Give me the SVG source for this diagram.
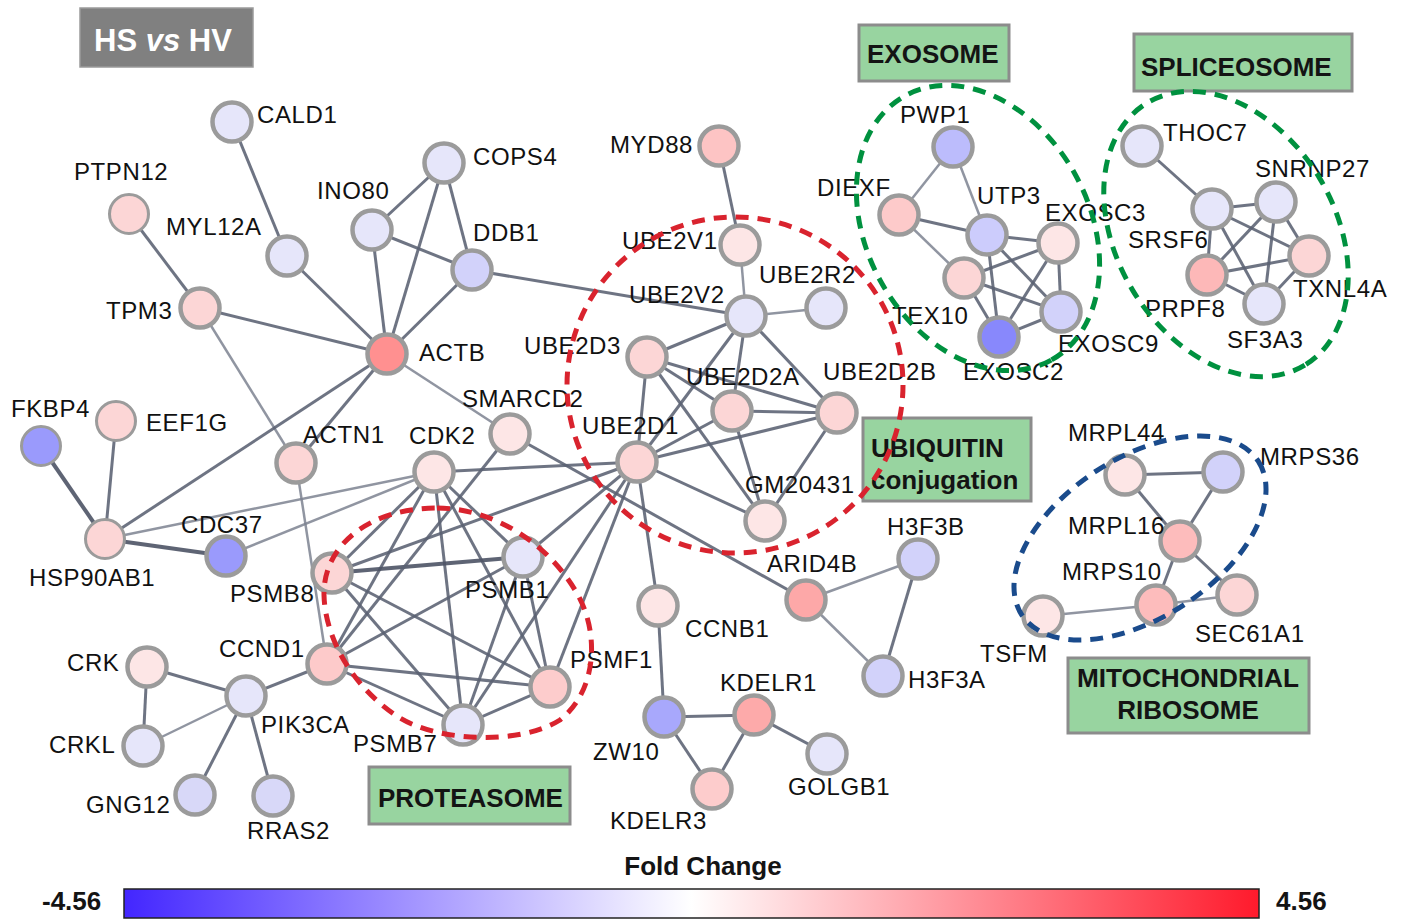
<svg xmlns="http://www.w3.org/2000/svg" width="1408" height="919" viewBox="0 0 1408 919">
<style>
.e{stroke:#5a6172;stroke-width:3;stroke-opacity:.88;fill:none}
.el{stroke:#7c8290;stroke-width:2.5;stroke-opacity:.85;fill:none}
.eb{stroke:#4c5365;stroke-width:4;stroke-opacity:.9;fill:none}
.n{stroke:#9b9b9b;stroke-width:4.5}
.nt{stroke:#9b9b9b;stroke-width:3}
.lbl{font-family:"Liberation Sans",Arial,Helvetica,sans-serif;font-size:24px;fill:#111;letter-spacing:.6px}
.box{fill:#98d4a0;stroke:#8c8c8c;stroke-width:3}
.bt{font-family:"Liberation Sans",Arial,Helvetica,sans-serif;font-size:26px;font-weight:bold;fill:#141414}
.dr{fill:none;stroke:#d9232e;stroke-width:5;stroke-dasharray:13 9}
.dg{fill:none;stroke:#00913f;stroke-width:5;stroke-dasharray:13 9}
.db{fill:none;stroke:#1a4b8c;stroke-width:5;stroke-dasharray:13 9}
.lav{fill:#e6e6fa}.lav2{fill:#d2d2fa}.lav3{fill:#bcbcfc}
.blu{fill:#9a9afc}.blu2{fill:#a8a8fc}.blu3{fill:#8888fc}
.pk{fill:#fcd6d6}.lpk{fill:#fde6e6}.mpk{fill:#fdbcbc}.rd{fill:#ff9090}.rd2{fill:#fda8a8}
</style>
<defs>
<linearGradient id="fc" x1="0" y1="0" x2="1" y2="0">
<stop offset="0" stop-color="#4326ff"/>
<stop offset="0.5" stop-color="#ffffff"/>
<stop offset="1" stop-color="#ff1a2c"/>
</linearGradient>
</defs>
<rect width="1408" height="919" fill="#ffffff"/>

<g id="title">
<rect x="80" y="8" width="173" height="59" fill="#808080" stroke="#9a9a9a" stroke-width="1.5"/>
<text x="94" y="51" font-family="Liberation Sans, Arial, sans-serif" font-size="31" font-weight="bold" fill="#ffffff">HS <tspan font-style="italic">vs</tspan> HV</text>
</g>

<g id="edges">
<line class="e" x1="232" y1="122" x2="287" y2="256"/>
<line class="e" x1="287" y1="256" x2="387" y2="354"/>
<line class="e" x1="129" y1="214" x2="200" y2="308"/>
<line class="e" x1="200" y1="308" x2="387" y2="354"/>
<line class="el" x1="200" y1="308" x2="296" y2="463"/>
<line class="e" x1="372" y1="230" x2="444" y2="163"/>
<line class="e" x1="372" y1="230" x2="472" y2="270"/>
<line class="e" x1="372" y1="230" x2="387" y2="354"/>
<line class="e" x1="444" y1="163" x2="387" y2="354"/>
<line class="e" x1="444" y1="163" x2="472" y2="270"/>
<line class="e" x1="472" y1="270" x2="387" y2="354"/>
<line class="e" x1="472" y1="270" x2="746" y2="316"/>
<line class="e" x1="387" y1="354" x2="105" y2="539"/>
<line class="e" x1="387" y1="354" x2="296" y2="463"/>
<line class="el" x1="387" y1="354" x2="510" y2="434"/>
<line class="eb" x1="41" y1="446" x2="105" y2="539"/>
<line class="e" x1="116" y1="421" x2="105" y2="539"/>
<line class="eb" x1="105" y1="539" x2="226" y2="556"/>
<line class="el" x1="105" y1="539" x2="434" y2="472"/>
<line class="el" x1="226" y1="556" x2="434" y2="472"/>
<line class="el" x1="296" y1="463" x2="327" y2="664"/>
<line class="e" x1="434" y1="472" x2="332" y2="573"/>
<line class="e" x1="434" y1="472" x2="327" y2="664"/>
<line class="e" x1="434" y1="472" x2="523" y2="557"/>
<line class="e" x1="434" y1="472" x2="550" y2="687"/>
<line class="e" x1="434" y1="472" x2="463" y2="725"/>
<line class="e" x1="434" y1="472" x2="637" y2="462"/>
<line class="eb" x1="332" y1="573" x2="523" y2="557"/>
<line class="e" x1="332" y1="573" x2="550" y2="687"/>
<line class="e" x1="332" y1="573" x2="463" y2="725"/>
<line class="e" x1="332" y1="573" x2="637" y2="462"/>
<line class="e" x1="327" y1="664" x2="523" y2="557"/>
<line class="e" x1="327" y1="664" x2="550" y2="687"/>
<line class="e" x1="327" y1="664" x2="463" y2="725"/>
<line class="e" x1="327" y1="664" x2="510" y2="434"/>
<line class="e" x1="327" y1="664" x2="246" y2="696"/>
<line class="e" x1="523" y1="557" x2="550" y2="687"/>
<line class="e" x1="523" y1="557" x2="463" y2="725"/>
<line class="e" x1="523" y1="557" x2="637" y2="462"/>
<line class="e" x1="550" y1="687" x2="463" y2="725"/>
<line class="e" x1="550" y1="687" x2="637" y2="462"/>
<line class="e" x1="463" y1="725" x2="637" y2="462"/>
<line class="e" x1="719" y1="146" x2="740" y2="245"/>
<line class="el" x1="740" y1="245" x2="746" y2="316"/>
<line class="el" x1="746" y1="316" x2="826" y2="308"/>
<line class="e" x1="746" y1="316" x2="647" y2="357"/>
<line class="e" x1="746" y1="316" x2="732" y2="411"/>
<line class="e" x1="746" y1="316" x2="837" y2="413"/>
<line class="e" x1="746" y1="316" x2="637" y2="462"/>
<line class="e" x1="647" y1="357" x2="732" y2="411"/>
<line class="e" x1="647" y1="357" x2="837" y2="413"/>
<line class="e" x1="647" y1="357" x2="637" y2="462"/>
<line class="e" x1="647" y1="357" x2="765" y2="521"/>
<line class="e" x1="732" y1="411" x2="837" y2="413"/>
<line class="e" x1="732" y1="411" x2="637" y2="462"/>
<line class="e" x1="732" y1="411" x2="765" y2="521"/>
<line class="e" x1="837" y1="413" x2="637" y2="462"/>
<line class="e" x1="837" y1="413" x2="765" y2="521"/>
<line class="e" x1="637" y1="462" x2="765" y2="521"/>
<line class="e" x1="637" y1="462" x2="658" y2="606"/>
<line class="e" x1="510" y1="434" x2="806" y2="600"/>
<line class="el" x1="806" y1="600" x2="918" y2="559"/>
<line class="el" x1="806" y1="600" x2="883" y2="676"/>
<line class="e" x1="918" y1="559" x2="883" y2="676"/>
<line class="e" x1="658" y1="606" x2="664" y2="717"/>
<line class="e" x1="664" y1="717" x2="754" y2="715"/>
<line class="e" x1="664" y1="717" x2="712" y2="789"/>
<line class="e" x1="754" y1="715" x2="712" y2="789"/>
<line class="e" x1="754" y1="715" x2="827" y2="754"/>
<line class="e" x1="246" y1="696" x2="147" y2="667"/>
<line class="el" x1="246" y1="696" x2="143" y2="746"/>
<line class="e" x1="147" y1="667" x2="143" y2="746"/>
<line class="e" x1="246" y1="696" x2="195" y2="795"/>
<line class="e" x1="246" y1="696" x2="273" y2="796"/>
<line class="el" x1="953" y1="147" x2="899" y2="215"/>
<line class="el" x1="953" y1="147" x2="987" y2="235"/>
<line class="e" x1="899" y1="215" x2="987" y2="235"/>
<line class="el" x1="899" y1="215" x2="964" y2="278"/>
<line class="e" x1="987" y1="235" x2="1058" y2="243"/>
<line class="e" x1="987" y1="235" x2="999" y2="337"/>
<line class="e" x1="987" y1="235" x2="1061" y2="312"/>
<line class="e" x1="964" y1="278" x2="1058" y2="243"/>
<line class="e" x1="964" y1="278" x2="1061" y2="312"/>
<line class="e" x1="964" y1="278" x2="999" y2="337"/>
<line class="e" x1="1058" y1="243" x2="1061" y2="312"/>
<line class="e" x1="1058" y1="243" x2="999" y2="337"/>
<line class="e" x1="1061" y1="312" x2="999" y2="337"/>
<line class="e" x1="1142" y1="146" x2="1212" y2="209"/>
<line class="e" x1="1212" y1="209" x2="1276" y2="202"/>
<line class="e" x1="1212" y1="209" x2="1309" y2="256"/>
<line class="e" x1="1212" y1="209" x2="1207" y2="275"/>
<line class="e" x1="1212" y1="209" x2="1264" y2="304"/>
<line class="e" x1="1276" y1="202" x2="1207" y2="275"/>
<line class="e" x1="1276" y1="202" x2="1309" y2="256"/>
<line class="e" x1="1276" y1="202" x2="1264" y2="304"/>
<line class="e" x1="1207" y1="275" x2="1309" y2="256"/>
<line class="e" x1="1207" y1="275" x2="1264" y2="304"/>
<line class="e" x1="1309" y1="256" x2="1264" y2="304"/>
<line class="e" x1="1125" y1="475" x2="1223" y2="472"/>
<line class="e" x1="1125" y1="475" x2="1180" y2="541"/>
<line class="e" x1="1223" y1="472" x2="1180" y2="541"/>
<line class="e" x1="1180" y1="541" x2="1156" y2="605"/>
<line class="e" x1="1180" y1="541" x2="1237" y2="595"/>
<line class="el" x1="1156" y1="605" x2="1043" y2="616"/>
<line class="el" x1="1156" y1="605" x2="1237" y2="595"/>
</g>

<g id="n-CALD1"><circle class="n lav" cx="232" cy="122" r="19.5"/><text class="lbl" x="257" y="123">CALD1</text></g>
<g id="n-PTPN12"><circle class="nt pk" cx="129" cy="214" r="19.5"/><text class="lbl" x="74" y="180">PTPN12</text></g>
<g id="n-MYL12A"><circle class="n lav" cx="287" cy="256" r="19.5"/><text class="lbl" x="166" y="235">MYL12A</text></g>
<g id="n-TPM3"><circle class="n pk" cx="200" cy="308" r="19.5"/><text class="lbl" x="106" y="319">TPM3</text></g>
<g id="n-INO80"><circle class="n lav" cx="372" cy="230" r="19.5"/><text class="lbl" x="317" y="199">INO80</text></g>
<g id="n-COPS4"><circle class="n lav" cx="444" cy="163" r="19.5"/><text class="lbl" x="473" y="165">COPS4</text></g>
<g id="n-DDB1"><circle class="n lav2" cx="472" cy="270" r="19.5"/><text class="lbl" x="473" y="241">DDB1</text></g>
<g id="n-ACTB"><circle class="n rd" cx="387" cy="354" r="19.5"/><text class="lbl" x="419" y="361">ACTB</text></g>
<g id="n-MYD88"><circle class="n" cx="719" cy="146" r="19.5" fill="#fdc4c4"/><text class="lbl" x="610" y="153">MYD88</text></g>
<g id="n-UBE2V1"><circle class="n lpk" cx="740" cy="245" r="19.5"/><text class="lbl" x="622" y="249">UBE2V1</text></g>
<g id="n-UBE2R2"><circle class="n lav" cx="826" cy="308" r="19.5"/><text class="lbl" x="759" y="283">UBE2R2</text></g>
<g id="n-UBE2V2"><circle class="n lav" cx="746" cy="316" r="19.5"/><text class="lbl" x="629" y="303">UBE2V2</text></g>
<g id="n-UBE2D3"><circle class="n pk" cx="647" cy="357" r="19.5"/><text class="lbl" x="524" y="354">UBE2D3</text></g>
<g id="n-UBE2D2A"><circle class="n pk" cx="732" cy="411" r="19.5"/><text class="lbl" x="686" y="385">UBE2D2A</text></g>
<g id="n-UBE2D2B"><circle class="n pk" cx="837" cy="413" r="19.5"/><text class="lbl" x="823" y="380">UBE2D2B</text></g>
<g id="n-SMARCD2"><circle class="n lpk" cx="510" cy="434" r="19.5"/><text class="lbl" x="462" y="407">SMARCD2</text></g>
<g id="n-UBE2D1"><circle class="n pk" cx="637" cy="462" r="19.5"/><text class="lbl" x="582" y="434">UBE2D1</text></g>
<g id="n-GM20431"><circle class="n lpk" cx="765" cy="521" r="19.5"/><text class="lbl" x="745" y="493">GM20431</text></g>
<g id="n-CDK2"><circle class="n lpk" cx="434" cy="472" r="19.5"/><text class="lbl" x="409" y="444">CDK2</text></g>
<g id="n-ACTN1"><circle class="n pk" cx="296" cy="463" r="19.5"/><text class="lbl" x="303" y="443">ACTN1</text></g>
<g id="n-FKBP4"><circle class="nt blu" cx="41" cy="446" r="19.5"/><text class="lbl" x="11" y="417">FKBP4</text></g>
<g id="n-EEF1G"><circle class="nt pk" cx="116" cy="421" r="19.5"/><text class="lbl" x="146" y="431">EEF1G</text></g>
<g id="n-HSP90AB1"><circle class="nt pk" cx="105" cy="539" r="19.5"/><text class="lbl" x="29" y="586">HSP90AB1</text></g>
<g id="n-CDC37"><circle class="n blu" cx="226" cy="556" r="19.5"/><text class="lbl" x="181" y="533">CDC37</text></g>
<g id="n-PSMB8"><circle class="n pk" cx="332" cy="573" r="19.5"/><text class="lbl" x="230" y="602">PSMB8</text></g>
<g id="n-PSMB1"><circle class="n lav" cx="523" cy="557" r="19.5"/><text class="lbl" x="465" y="598">PSMB1</text></g>
<g id="n-CCND1"><circle class="n" cx="327" cy="664" r="19.5" fill="#fdcaca"/><text class="lbl" x="219" y="657">CCND1</text></g>
<g id="n-PSMF1"><circle class="n" cx="550" cy="687" r="19.5" fill="#fdcccc"/><text class="lbl" x="570" y="668">PSMF1</text></g>
<g id="n-PSMB7"><circle class="n lav" cx="463" cy="725" r="19.5"/><text class="lbl" x="353" y="752">PSMB7</text></g>
<g id="n-CRK"><circle class="n lpk" cx="147" cy="667" r="19.5"/><text class="lbl" x="67" y="671">CRK</text></g>
<g id="n-CRKL"><circle class="n lav" cx="143" cy="746" r="19.5"/><text class="lbl" x="49" y="753">CRKL</text></g>
<g id="n-PIK3CA"><circle class="n lav" cx="246" cy="696" r="19.5"/><text class="lbl" x="261" y="733">PIK3CA</text></g>
<g id="n-GNG12"><circle class="n" cx="195" cy="795" r="19.5" fill="#d8d8f8"/><text class="lbl" x="86" y="813">GNG12</text></g>
<g id="n-RRAS2"><circle class="n" cx="273" cy="796" r="19.5" fill="#d8d8f8"/><text class="lbl" x="247" y="839">RRAS2</text></g>
<g id="n-CCNB1"><circle class="n lpk" cx="658" cy="606" r="19.5"/><text class="lbl" x="685" y="637">CCNB1</text></g>
<g id="n-ARID4B"><circle class="n rd2" cx="806" cy="600" r="19.5"/><text class="lbl" x="767" y="572">ARID4B</text></g>
<g id="n-H3F3B"><circle class="n lav2" cx="918" cy="559" r="19.5"/><text class="lbl" x="887" y="535">H3F3B</text></g>
<g id="n-H3F3A"><circle class="n lav2" cx="883" cy="676" r="19.5"/><text class="lbl" x="908" y="688">H3F3A</text></g>
<g id="n-ZW10"><circle class="n blu2" cx="664" cy="717" r="19.5"/><text class="lbl" x="593" y="760">ZW10</text></g>
<g id="n-KDELR1"><circle class="n" cx="754" cy="715" r="19.5" fill="#fdaaaa"/><text class="lbl" x="720" y="691">KDELR1</text></g>
<g id="n-KDELR3"><circle class="n" cx="712" cy="789" r="19.5" fill="#fdcccc"/><text class="lbl" x="610" y="829">KDELR3</text></g>
<g id="n-GOLGB1"><circle class="n lav" cx="827" cy="754" r="19.5"/><text class="lbl" x="788" y="795">GOLGB1</text></g>
<g id="n-PWP1"><circle class="n lav3" cx="953" cy="147" r="19.5"/><text class="lbl" x="900" y="123">PWP1</text></g>
<g id="n-DIEXF"><circle class="n" cx="899" cy="215" r="19.5" fill="#fdcaca"/><text class="lbl" x="817" y="196">DIEXF</text></g>
<g id="n-UTP3"><circle class="n" cx="987" cy="235" r="19.5" fill="#ccccfc"/><text class="lbl" x="977" y="204">UTP3</text></g>
<g id="n-EXOSC3"><circle class="n lpk" cx="1058" cy="243" r="19.5"/><text class="lbl" x="1045" y="221">EXOSC3</text></g>
<g id="n-TEX10"><circle class="n pk" cx="964" cy="278" r="19.5"/><text class="lbl" x="892" y="324">TEX10</text></g>
<g id="n-EXOSC9"><circle class="n lav2" cx="1061" cy="312" r="19.5"/><text class="lbl" x="1058" y="352">EXOSC9</text></g>
<g id="n-EXOSC2"><circle class="n blu3" cx="999" cy="337" r="19.5"/><text class="lbl" x="963" y="380">EXOSC2</text></g>
<g id="n-THOC7"><circle class="n lav" cx="1142" cy="146" r="19.5"/><text class="lbl" x="1163" y="141">THOC7</text></g>
<g id="n-SRSF6"><circle class="n lav" cx="1212" cy="209" r="19.5"/><text class="lbl" x="1128" y="248">SRSF6</text></g>
<g id="n-SNRNP27"><circle class="n lav" cx="1276" cy="202" r="19.5"/><text class="lbl" x="1255" y="177">SNRNP27</text></g>
<g id="n-TXNL4A"><circle class="n pk" cx="1309" cy="256" r="19.5"/><text class="lbl" x="1293" y="297">TXNL4A</text></g>
<g id="n-PRPF8"><circle class="n" cx="1207" cy="275" r="19.5" fill="#fdb8b8"/><text class="lbl" x="1145" y="317">PRPF8</text></g>
<g id="n-SF3A3"><circle class="n lav" cx="1264" cy="304" r="19.5"/><text class="lbl" x="1227" y="348">SF3A3</text></g>
<g id="n-MRPL44"><circle class="n lpk" cx="1125" cy="475" r="19.5"/><text class="lbl" x="1068" y="441">MRPL44</text></g>
<g id="n-MRPS36"><circle class="n lav2" cx="1223" cy="472" r="19.5"/><text class="lbl" x="1260" y="465">MRPS36</text></g>
<g id="n-MRPL16"><circle class="n mpk" cx="1180" cy="541" r="19.5"/><text class="lbl" x="1068" y="534">MRPL16</text></g>
<g id="n-MRPS10"><circle class="n mpk" cx="1156" cy="605" r="19.5"/><text class="lbl" x="1062" y="580">MRPS10</text></g>
<g id="n-SEC61A1"><circle class="n pk" cx="1237" cy="595" r="19.5"/><text class="lbl" x="1195" y="642">SEC61A1</text></g>
<g id="n-TSFM"><circle class="n lpk" cx="1043" cy="616" r="19.5"/><text class="lbl" x="980" y="662">TSFM</text></g>

<g id="box-exosome"><rect class="box" x="859" y="25" width="150" height="56"/><text class="bt" x="867" y="63">EXOSOME</text></g>
<g id="box-spliceosome"><rect class="box" x="1134" y="34" width="218" height="57"/><text class="bt" x="1141" y="76">SPLICEOSOME</text></g>
<g id="box-ubiquitin"><rect class="box" x="863" y="418" width="168" height="83"/><text class="bt" x="871" y="457">UBIQUITIN</text><text class="bt" x="871" y="489">conjugation</text></g>
<g id="box-mito"><rect class="box" x="1068" y="658" width="241" height="75"/><text class="bt" x="1188" y="687" text-anchor="middle" textLength="222" lengthAdjust="spacingAndGlyphs">MITOCHONDRIAL</text><text class="bt" x="1188" y="719" text-anchor="middle">RIBOSOME</text></g>
<g id="box-proteasome"><rect class="box" x="369" y="767" width="201" height="57"/><text class="bt" x="378" y="807">PROTEASOME</text></g>

<g id="clusters">
<circle class="dr" cx="735" cy="385" r="168"/>
<path class="dr" d="M437,508 C490,508 545,540 575,590 C600,630 598,690 560,720 C520,745 440,742 400,718 C355,690 325,640 324,595 C323,545 370,508 437,508 Z"/>
<ellipse class="dg" cx="978" cy="228" rx="151" ry="111" transform="rotate(61 978 228)"/>
<ellipse class="dg" cx="1226" cy="234" rx="153" ry="109" transform="rotate(59 1226 234)"/>
<ellipse class="db" cx="1140" cy="538" rx="141" ry="80" transform="rotate(-33 1140 538)"/>
</g>

<g id="legend">
<text class="bt" x="703" y="875" text-anchor="middle">Fold Change</text>
<rect x="124" y="889" width="1135" height="29" fill="url(#fc)" stroke="#222" stroke-width="1.5"/>
<text class="bt" x="42" y="910">-4.56</text>
<text class="bt" x="1276" y="910">4.56</text>
</g>
</svg>
